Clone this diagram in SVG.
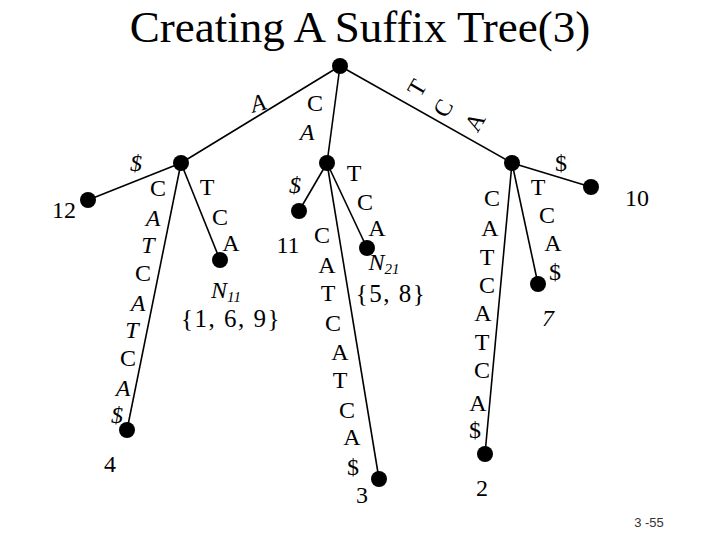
<svg xmlns="http://www.w3.org/2000/svg" width="720" height="540" viewBox="0 0 720 540">
<style>
.t{font-family:"Liberation Serif","Times New Roman",serif;font-size:24px;fill:#000;text-anchor:middle}
.i{font-style:italic}
.n{font-family:"Liberation Serif","Times New Roman",serif;font-size:24px;fill:#000;text-anchor:middle}
.s{font-family:"Liberation Serif","Times New Roman",serif;font-size:25px;fill:#000;text-anchor:middle;letter-spacing:1.5px}
.title{font-family:"Liberation Serif","Times New Roman",serif;font-size:45px;fill:#000;text-anchor:middle}
.e{stroke:#000;stroke-width:1.6;fill:none}
.d{fill:#000}
.pg{font-family:"Liberation Sans",Arial,sans-serif;font-size:13px;fill:#333;text-anchor:middle}
</style>
<rect width="720" height="540" fill="#fff"/>
<text class="title" x="360" y="42">Creating A Suffix Tree(3)</text>
<g id="connectors">
<line class="e" x1="340" y1="66" x2="181" y2="163"/>
<line class="e" x1="340" y1="66" x2="327" y2="163"/>
<line class="e" x1="340" y1="66" x2="512" y2="163"/>
<line class="e" x1="181" y1="163" x2="88" y2="200"/>
<line class="e" x1="181" y1="163" x2="127" y2="430"/>
<line class="e" x1="181" y1="163" x2="220" y2="260"/>
<line class="e" x1="327" y1="163" x2="299" y2="211"/>
<line class="e" x1="327" y1="163" x2="379" y2="479"/>
<line class="e" x1="327" y1="163" x2="367" y2="248"/>
<line class="e" x1="512" y1="163" x2="591" y2="187"/>
<line class="e" x1="512" y1="163" x2="485" y2="454"/>
<line class="e" x1="512" y1="163" x2="538" y2="284"/>
</g>
<g id="edge-labels">
<text class="t i" x="258" y="111" transform="rotate(-15 258 103)">A</text>
<text class="t" x="315" y="111">C</text>
<text class="t i" x="307" y="140">A</text>
<text class="t" transform="translate(417 88) rotate(-60)" y="8">T</text>
<text class="t" transform="translate(443 108) rotate(-60)" y="8">C</text>
<text class="t" transform="translate(475 122) rotate(-60)" y="8">A</text>
<text class="t i" x="136" y="171">$</text>
<text class="t" x="158" y="196">C</text>
<text class="t i" x="153" y="226">A</text>
<text class="t i" x="148" y="253">T</text>
<text class="t" x="143" y="281">C</text>
<text class="t i" x="138" y="311">A</text>
<text class="t i" x="132" y="338">T</text>
<text class="t" x="128" y="366">C</text>
<text class="t i" x="123" y="396">A</text>
<text class="t i" x="117" y="423">$</text>
<text class="t" x="207" y="195">T</text>
<text class="t" x="220" y="225">C</text>
<text class="t" x="231" y="251">A</text>
<text class="t i" x="295" y="193">$</text>
<text class="t" x="354" y="181">T</text>
<text class="t" x="365" y="210">C</text>
<text class="t" x="377" y="236">A</text>
<text class="t" x="322" y="243">C</text>
<text class="t" x="327" y="273">A</text>
<text class="t" x="328" y="301">T</text>
<text class="t" x="333" y="331">C</text>
<text class="t" x="340" y="360">A</text>
<text class="t" x="340" y="388">T</text>
<text class="t" x="347" y="418">C</text>
<text class="t" x="352" y="445">A</text>
<text class="t" x="353" y="475">$</text>
<text class="t" x="561" y="171">$</text>
<text class="t" x="538" y="195">T</text>
<text class="t" x="547" y="223">C</text>
<text class="t" x="553" y="251">A</text>
<text class="t" x="555" y="280">$</text>
<text class="t" x="492" y="206">C</text>
<text class="t" x="490" y="236">A</text>
<text class="t" x="487" y="265">T</text>
<text class="t" x="487" y="293">C</text>
<text class="t" x="483" y="321">A</text>
<text class="t" x="482" y="350">T</text>
<text class="t" x="482" y="378">C</text>
<text class="t" x="478" y="411">A</text>
<text class="t" x="475" y="438">$</text>
</g>
<g id="root"><circle class="d" cx="340" cy="66" r="8"/></g>
<g id="node-A"><circle class="d" cx="181" cy="163" r="8"/></g>
<g id="node-CA"><circle class="d" cx="327" cy="163" r="8"/></g>
<g id="node-TCA"><circle class="d" cx="512" cy="163" r="8"/></g>
<g id="leaf-12"><circle class="d" cx="88" cy="200" r="8"/><text class="n" x="64" y="218">12</text></g>
<g id="leaf-4"><circle class="d" cx="127" cy="430" r="8"/><text class="n" x="110" y="472">4</text></g>
<g id="node-N11"><circle class="d" cx="220" cy="260" r="8"/>
<text class="n i" x="226" y="298">N<tspan font-size="15" dy="4">11</tspan></text>
<text class="s" x="231" y="327">{1, 6, 9}</text></g>
<g id="leaf-11"><circle class="d" cx="299" cy="211" r="8"/><text class="n" x="288" y="253">11</text></g>
<g id="node-N21"><circle class="d" cx="367" cy="248" r="8"/>
<text class="n i" x="384" y="270">N<tspan font-size="15" dy="4">21</tspan></text>
<text class="s" x="391" y="302">{5, 8}</text></g>
<g id="leaf-3"><circle class="d" cx="379" cy="479" r="8"/><text class="n" x="362" y="503">3</text></g>
<g id="leaf-10"><circle class="d" cx="591" cy="187" r="8"/><text class="n" x="637" y="206">10</text></g>
<g id="leaf-7"><circle class="d" cx="538" cy="284" r="8"/><text class="n i" x="548" y="326">7</text></g>
<g id="leaf-2"><circle class="d" cx="485" cy="454" r="8"/><text class="n" x="482" y="496">2</text></g>
<text class="pg" x="649" y="527">3 -55</text>
</svg>
